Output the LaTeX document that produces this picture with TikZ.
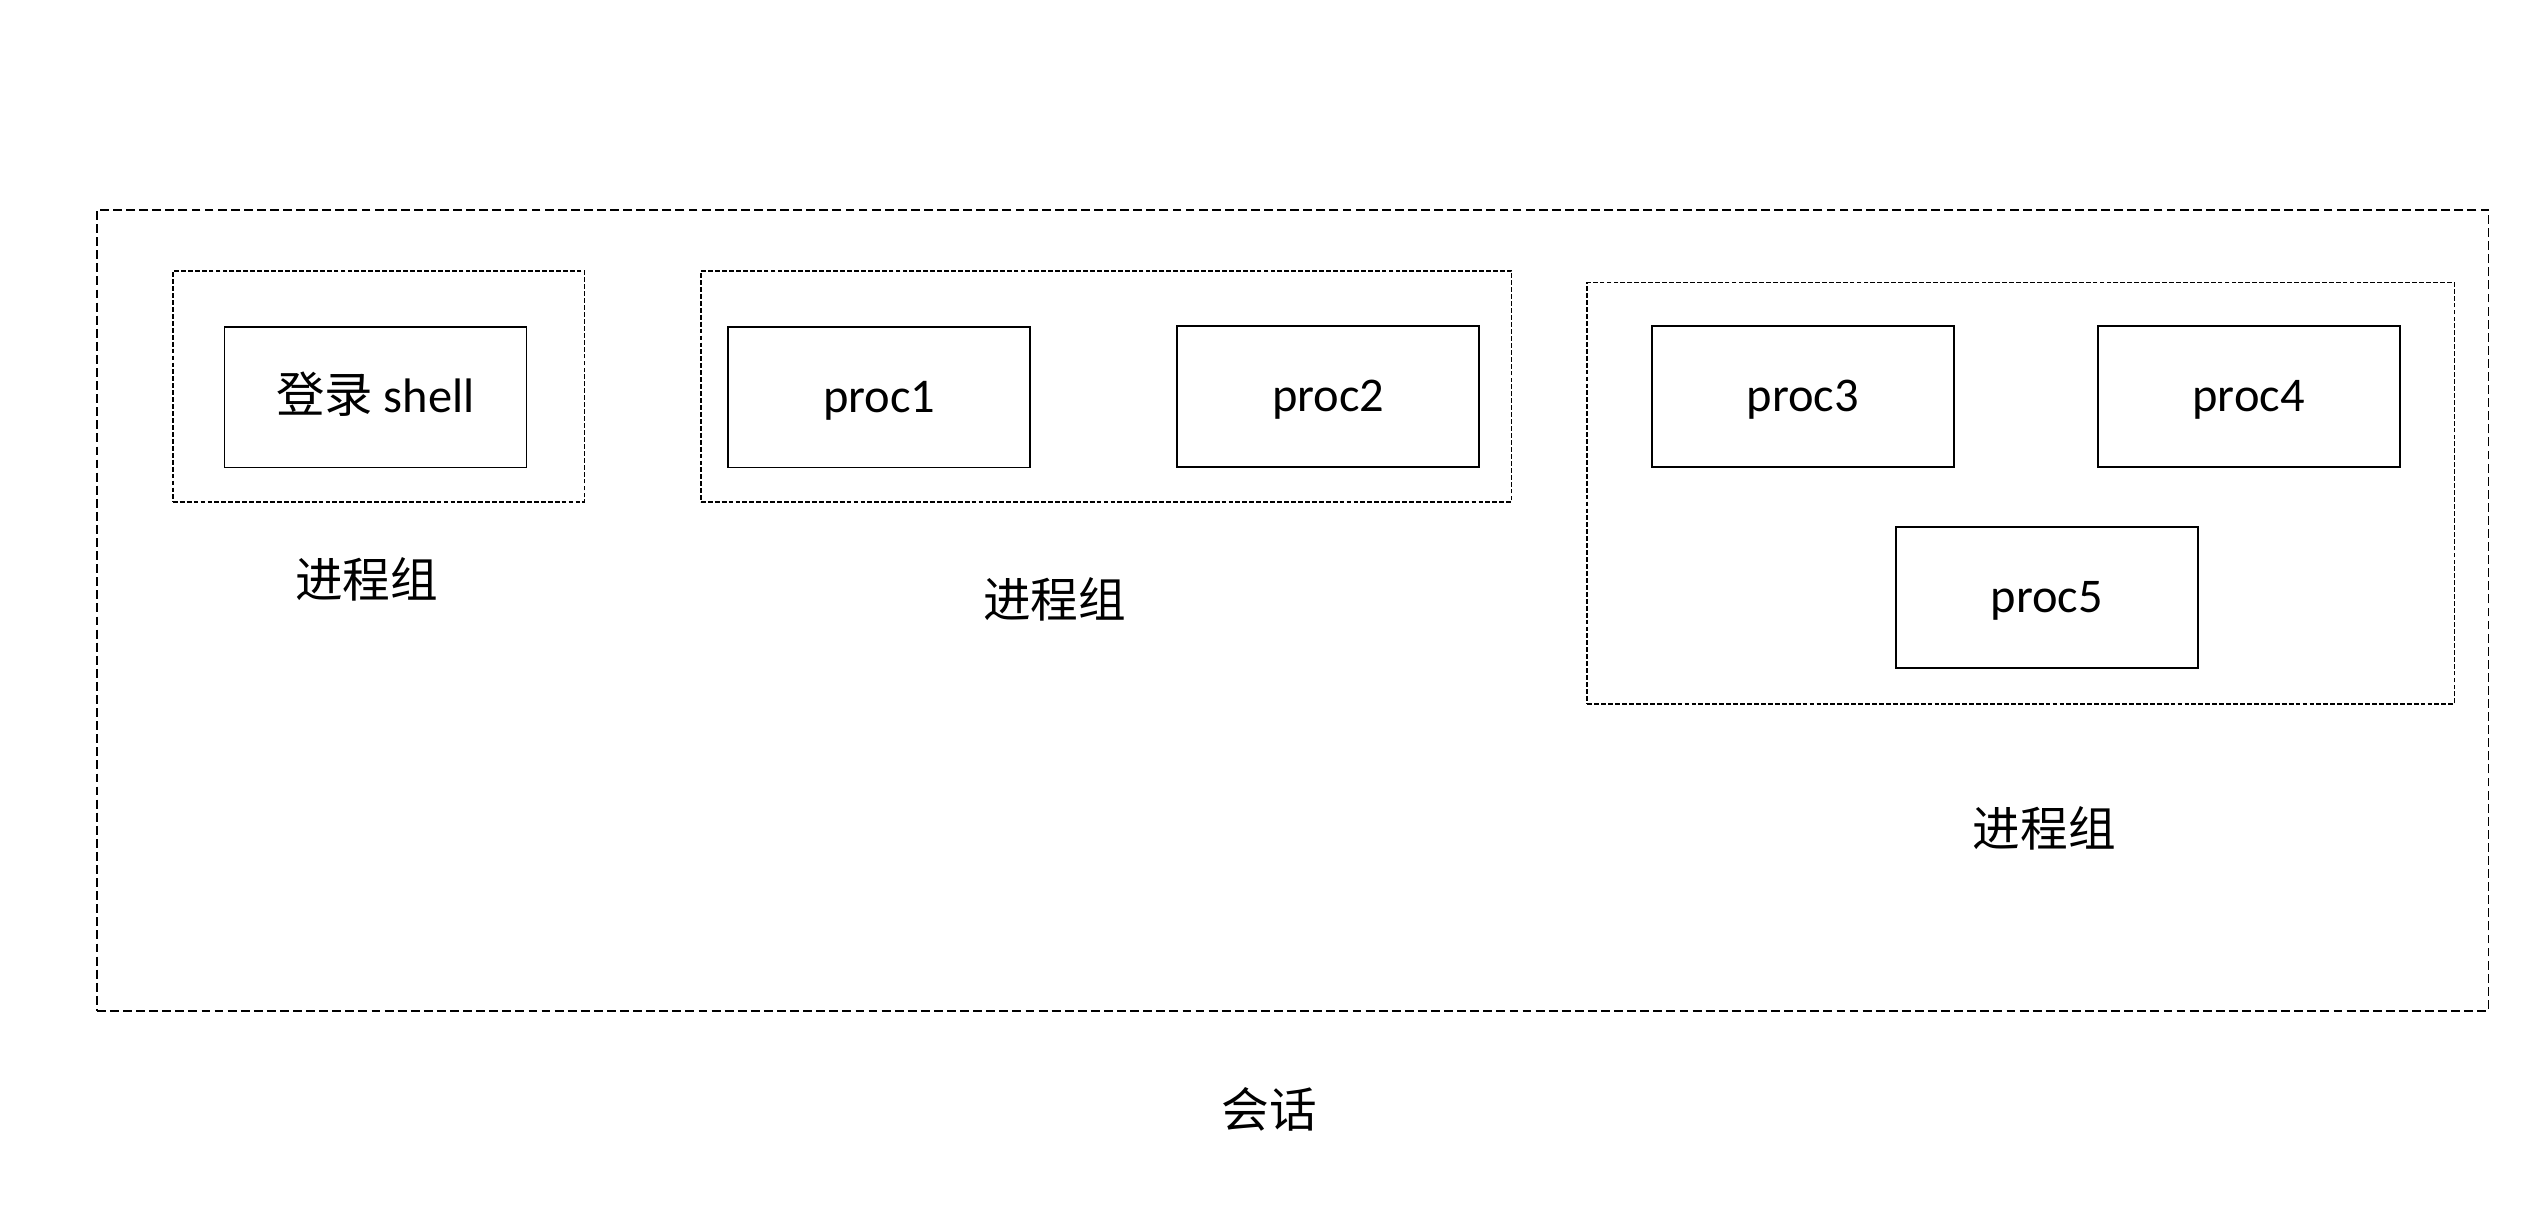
\documentclass[tikz,border=0pt]{standalone}
\usepackage{fontspec}
\setmainfont{Carlito}
\newfontfamily\cjk{Noto Sans CJK SC}
\begin{document}
\begin{tikzpicture}[x=1pt,y=-1pt,
  sessbox/.style={draw,line width=1.1pt,dash pattern=on 5.5pt off 2.6pt},
  grpbox/.style={draw,line width=1.1pt,dash pattern=on 3pt off 1.3pt},
  procbox/.style={draw,line width=1.1pt,minimum width=187pt,minimum height=87pt,inner sep=0pt,text height=19pt,text depth=0pt,font=\fontsize{30}{34}\selectfont},
  lbl/.style={font=\fontsize{29.5}{34}\selectfont\cjk,inner sep=0pt}]
\useasboundingbox (0,0) rectangle (1568,750.4);
\fill[white] (0,0) rectangle (1568,750.4);
% session
\node[sessbox,inner sep=0pt,minimum width=1481pt,minimum height=496pt] (sess) at (800.5,378) {};
% groups
\node[grpbox,inner sep=0pt,minimum width=255pt,minimum height=143pt] (g1) at (234.5,239.5) {};
\node[grpbox,inner sep=0pt,minimum width=502pt,minimum height=143pt] (g2) at (685,239.5) {};
\node[grpbox,inner sep=0pt,minimum width=537pt,minimum height=261pt] (g3) at (1251.5,305.5) {};
% processes
\node[procbox] (sh) at (232.5,246) {{\cjk 登录} shell};
\node[procbox] (p1) at (544.5,246) {proc1};
\node[procbox] (p2) at (822.5,245.5) {proc2};
\node[procbox] (p3) at (1116.5,245.5) {proc3};
\node[procbox] (p4) at (1392.5,245.5) {proc4};
\node[procbox] (p5) at (1267.5,370) {proc5};
% labels
\node[lbl] (l1) at (227,359) {进程组};
\node[lbl] (l2) at (653,371) {进程组};
\node[lbl] (l3) at (1266,513) {进程组};
\node[lbl] (ls) at (786,687) {会话};
\end{tikzpicture}
\end{document}
